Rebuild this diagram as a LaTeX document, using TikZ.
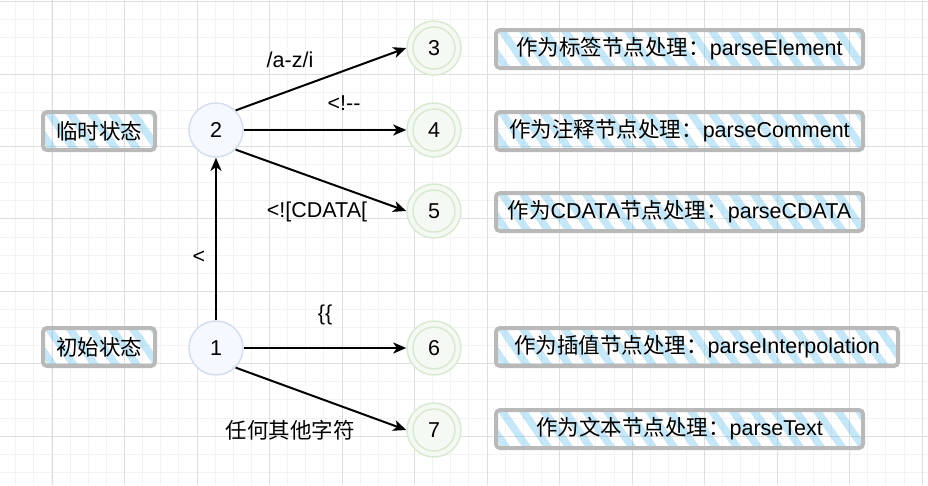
\documentclass[tikz,border=0pt]{standalone}
\usepackage{fontspec}
\setmainfont{Liberation Sans}
\newfontfamily\cjk{Noto Sans CJK SC}
\usetikzlibrary{arrows.meta}
\definecolor{gridminor}{RGB}{243,243,243}
\definecolor{gridmajor}{RGB}{222,222,222}
\definecolor{bluefill}{RGB}{245,248,254}
\definecolor{bluedraw}{RGB}{212,222,238}
\definecolor{greenfill}{RGB}{244,249,243}
\definecolor{greendraw}{RGB}{218,233,210}
\definecolor{hatchc}{RGB}{27,161,226}
\definecolor{boxdraw}{RGB}{185,185,185}
\begin{document}
\begin{tikzpicture}[x=1pt,y=-1pt, font=\fontsize{21.5}{25}\selectfont,
  startst/.style={circle, draw=bluedraw, fill=bluefill, line width=1.5pt, minimum size=54pt, inner sep=0pt},
  endst/.style={circle, draw=greendraw, fill=greenfill, line width=1.5pt, minimum size=54pt, inner sep=0pt},
  sketch/.style={draw=boxdraw, line width=4pt, rounded corners=4pt, minimum height=38pt, inner sep=0pt,
    path picture={\foreach \i in {0,...,22}{
      \draw[hatchc, opacity=0.25, line width=7.5pt, line cap=round]
        ([xshift={\i*21pt-45pt}, yshift=12pt]path picture bounding box.north west) -- ++(45pt,-65pt);}}},
  conn/.style={-{Stealth[length=13pt,width=11pt,inset=3.5pt]}, line width=2pt},
  lbl/.style={inner sep=0pt}]
\useasboundingbox (0,0) rectangle (928,485);
% grid
\foreach \k in {0,...,51} \draw[gridminor, line width=1pt] ({-2.4+18.13*\k},0) -- ({-2.4+18.13*\k},485);
\foreach \k in {0,...,26} \draw[gridminor, line width=1pt] (0,{1.7+18.1*\k}) -- (928,{1.7+18.1*\k});
\foreach \k in {0,...,12} \draw[gridmajor, line width=1pt] ({52+72.52*\k},0) -- ({52+72.52*\k},485);
\foreach \k in {0,...,6} \draw[gridmajor, line width=1pt] (0,{1.7+72.4*\k}) -- (928,{1.7+72.4*\k});
% left boxes
\node[sketch, minimum width=112pt] (s2) at (99,131) {{\cjk 临时状态}};
\node[sketch, minimum width=112pt] (s1) at (99,347) {{\cjk 初始状态}};
% states
\node[startst] (n2) at (216,130) {2};
\node[startst] (n1) at (216,348) {1};
\node[endst] (n3) at (434,48) {3};
\node[endst] (n4) at (434,130) {4};
\node[endst] (n5) at (434,211) {5};
\node[endst] (n6) at (434,348) {6};
\node[endst] (n7) at (434,430) {7};
\foreach \n in {n3,n4,n5,n6,n7} \draw[greendraw, line width=1.5pt] (\n.center) circle[radius=21pt];
% right boxes
\node[sketch, minimum width=367pt] (b3) at (679.5,49) {{\cjk 作为标签节点处理：}parseElement};
\node[sketch, minimum width=367pt] (b4) at (679.5,131) {{\cjk 作为注释节点处理：}parseComment};
\node[sketch, minimum width=367pt] (b5) at (679.5,212) {{\cjk 作为}CDATA{\cjk 节点处理：}parseCDATA};
\node[sketch, minimum width=402pt] (b6) at (697,347) {{\cjk 作为插值节点处理：}parseInterpolation};
\node[sketch, minimum width=367pt] (b7) at (679.5,429) {{\cjk 作为文本节点处理：}parseText};
% connectors
\draw[conn] (n1) -- (n2);
\draw[conn] (n2.north east) -- (n3.west);
\draw[conn] (n2) -- (n4);
\draw[conn] (n2.south east) -- (n5.west);
\draw[conn] (n1) -- (n6);
\draw[conn] (n1.south east) -- (n7.west);
% labels
\node[lbl] (la) at (290,60) {/a-z/i};
\node[lbl] (lb) at (344,103) {<!-{}-};
\node[lbl] (lc) at (317,212) {<![CDATA[};
\node[lbl] (ld) at (199,257) {<};
\node[lbl] (le) at (325,315) {\{\{};
\node[lbl] (lf) at (290,430) {{\cjk 任何其他字符}};
\end{tikzpicture}
\end{document}
